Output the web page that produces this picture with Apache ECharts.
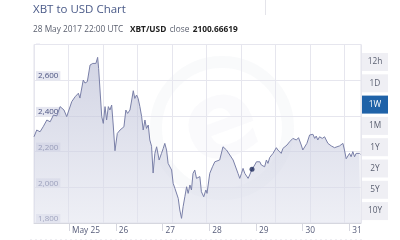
<!DOCTYPE html>
<html>
<head>
<meta charset="utf-8">
<script src="https://cdn.jsdelivr.net/npm/echarts@6/dist/echarts.min.js"></script>
<style>html,body{margin:0;padding:0;background:#fff}#c{width:400px;height:240px}</style>
</head>
<body>
<div id="c"></div>
<script>
// Hours since 2017-05-24 00:00 UTC
var times = [6,7.4,9.1,10.7,12.6,14.3,16,17.7,19.4,20.3,21.4,22.8,23.6,25.4,27.1,28.8,29.6,31.3,32.2,33.4,34.8,36.2,37,37.8,38.7,39.2,39.9,40.8,41.6,42.5,43.3,44.2,45,45.9,46.7,47.6,48.8,50.2,51,52.2,53.2,54.1,55.3,56.2,57,57.8,58.7,59.5,60.4,61.3,62.1,63,63.8,64.7,65.5,66.4,67.2,68.1,69,70.3,71.5,72.4,73.2,74.1,74.9,75.8,76.7,77.5,78.4,79.2,80.1,80.9,81.8,82.6,83.5,84.4,85.2,86.1,86.9,87.7,88.6,89.5,91.2,92,93.2,94.3,94.9,96.3,97.7,98.9,99.7,101.4,103.1,104,104.9,105.7,106.6,107.4,108.3,109.1,110.8,111.7,112.6,113.4,114.3,115.1,116,116.8,118,119.4,120.3,121.1,122,122.8,123.6,124.5,125.4,126.2,127.1,127.9,128.8,129.6,130.5,131.3,132.2,133,133.9,134.8,136,137.3,138.2,139,140.8,141.9,143.3,144.1,145,146.2,147.6,148.5,149.3,150.2,151,151.8,152.7,154.1,155.3,156.1,157,157.8,158.7,159.5,160.4,161.3,163,163.9,164.7,165.5,166.4,167.2,168.1,168.9,169.8,170.7,171.5,172.4,173.2,173.7];
var prices = [2283,2321,2311,2339,2377,2367,2405,2400,2452,2461,2433,2396,2388,2480,2507,2527,2500,2601,2584,2592,2685,2694,2704,2694,2728,2666,2657,2396,2358,2452,2377,2452,2433,2461,2349,2205,2302,2321,2332,2339,2433,2414,2433,2489,2541,2498,2517,2498,2452,2396,2321,2377,2330,2349,2265,2230,2080,2190,2227,2153,2190,2218,2246,2209,2134,2143,2097,2022,1994,2003,1938,1873,1826,1891,1947,2003,1966,2013,1985,2078,2097,2050,2060,1975,1947,1985,1966,2078,2115,2143,2134,2153,2227,2237,2209,2218,2181,2190,2153,2162,2078,2050,2078,2106,2078,2087,2050,2069,2100.66619,2125,2143,2134,2143,2125,2115,2115,2153,2134,2167,2162,2190,2200,2222,2209,2209,2190,2218,2222,2237,2255,2265,2274,2265,2278,2237,2209,2209,2246,2293,2283,2297,2274,2287,2265,2283,2274,2283,2265,2246,2255,2232,2237,2222,2231,2232,2237,2246,2209,2160,2153,2190,2171,2200,2171,2190,2181,2190,2185];
var dayTicks = [24,48,72,96,120,144,168];
var dayLabels = ['May 25','26','27','28','29','30','31'];
var yTicks = [1800,2000,2200,2400,2600];
var markerTime = 118;
var markerValue = 2100.66619;
var buttons = ['12h','1D','1W','1M','1Y','2Y','5Y','10Y'];
var selectedButton = '1W';

var chart = echarts.init(document.getElementById('c'), null, {renderer:'canvas'});
var seriesData = times.map(function(t,i){return [t, prices[i]];});

var graphics = [
  {type:'text', left:33, top:4, style:{text:'XBT to USD Chart', fontSize:11.5, fontFamily:'Open Sans', fill:'#4a5a88'}},
  {type:'text', left:33, top:24, style:{
    text:'{a|28 May 2017 22:00 UTC}  {b|XBT/USD} {a|close} {b|2100.66619}',
    rich:{a:{fontSize:8.3, fontFamily:'Open Sans', fill:'#5a5f6e'}, b:{fontSize:8.3, fontFamily:'Open Sans', fontWeight:'bold', fill:'#222'}}
  }},
  {type:'line', shape:{x1:265.5,y1:0,x2:265.5,y2:15}, style:{stroke:'#e4e4ea', lineWidth:1}},
  {type:'line', shape:{x1:30,y1:239.5,x2:362,y2:239.5}, style:{stroke:'#eeeef2', lineWidth:1, lineDash:[2,3]}},
  {type:'circle', shape:{cx:222, cy:128, r:66}, style:{fill:'none', stroke:'rgba(215,217,230,0.14)', lineWidth:12}, z:-1},
  {type:'text', x:222, y:128, rotation:0.35, style:{text:'e', fontSize:110, fontWeight:'bold', fontFamily:'DejaVu Sans', fill:'rgba(215,217,230,0.13)', align:'center', verticalAlign:'middle'}, z:-1}
];
buttons.forEach(function(b,i){
  var sel = b === selectedButton;
  var top = 53 + i*21.3;
  graphics.push({type:'rect', shape:{x:362, y:top, width:26, height:18}, style:{fill: sel ? '#1f62a8' : '#efeff4'}});
  graphics.push({type:'text', x:375, y:top+9, style:{text:b, fontSize:8.3, fontFamily:'Open Sans', fill: sel ? '#fff' : '#5a5f70', align:'center', verticalAlign:'middle'}});
});

chart.setOption({
  animation:false,
  backgroundColor:'#fff',
  grid:{left:34, right:39, top:44.5, bottom:17, show:true, borderColor:'#e2e2ea', borderWidth:1, backgroundColor:'transparent'},
  xAxis:[{
    type:'value', min:6, max:174,
    axisLine:{show:true, lineStyle:{color:'#d6d7df'}},
    axisTick:{show:true, customValues:dayTicks, length:8, lineStyle:{color:'#d6d7df'}},
    axisLabel:{show:true, customValues:dayTicks, align:'left', margin:4, padding:[0,0,0,3], fontSize:8.3, fontFamily:'Open Sans', color:'#555b78',
      formatter:function(v){var i=dayTicks.indexOf(Math.round(v)); return i>=0?dayLabels[i]:'';}},
    splitLine:{show:false}
  },{
    type:'value', min:0, max:9.478, interval:1, position:'top',
    axisLine:{show:false}, axisTick:{show:false}, axisLabel:{show:false},
    splitLine:{show:true, lineStyle:{color:'#e6e6ee'}}
  }],
  yAxis:{
    type:'value', min:1800, max:2800, interval:200,
    axisLine:{show:false}, axisTick:{show:false},
    axisLabel:{inside:true, margin:2, verticalAlign:'bottom', fontSize:8, fontFamily:'Open Sans', color:'#4b5380',
      backgroundColor:'#e6e7f1', padding:[1,2,0,2],
      formatter:function(v){return yTicks.indexOf(v)>=0 ? v.toLocaleString('en-US') : '';}},
    splitLine:{show:true, lineStyle:{color:'#e6e6ee'}}
  },
  graphic:graphics,
  series:[{
    type:'line', data:seriesData, showSymbol:false, symbol:'none',
    lineStyle:{color:'#7a80a8', width:1},
    areaStyle:{origin:'start', color:new echarts.graphic.LinearGradient(0,0,0,1,[{offset:0,color:'rgba(180,184,210,0.85)'},{offset:1,color:'rgba(225,227,238,0.8)'}])},
    z:2
  },{
    type:'scatter', data:[[markerTime, markerValue]], symbolSize:5, itemStyle:{color:'#1e2a5c'}, z:3
  }]
});
</script>
</body>
</html>
